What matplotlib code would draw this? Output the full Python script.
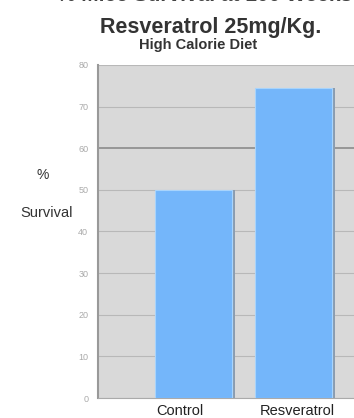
import numpy as np
import matplotlib.pyplot as plt

plt.rcParams['font.family'] = ['Liberation Sans', 'DejaVu Sans']

groups = ["Control", "Resveratrol"]
survival = [50, 74.5]
yticks = [0, 10, 20, 30, 40, 50, 60, 70, 80]

fig = plt.figure(figsize=(3.54, 4.18), dpi=100)
ax = fig.add_axes([98/354, 1 - 398/418, 1 - 98/354, (398 - 65)/418])
ax.set_facecolor("#d9d9d9")

x = np.arange(len(groups))
# drop shadow on the right side of each bar
ax.bar(x + 0.03, survival, width=0.77, color="#8a9cb0", zorder=2)
ax.bar(x, survival, width=0.77, color="#74b6fa", edgecolor="#a8d4fc", linewidth=0.8, zorder=3)

ax.set_xlim(-0.95, 1.61)
ax.set_ylim(0, 80)
ax.set_yticks(yticks)
ax.set_yticklabels([str(t) for t in yticks], fontsize=6.5, color="#aaaaaa")
ax.set_xticks([])
for t in yticks:
    ax.axhline(t, color="#8c8c8c" if t == 60 else "#b8b8b8", lw=1.2 if t == 60 else 0.8, zorder=1)
ax.tick_params(axis="y", length=0, pad=7)
for s in ["top", "right"]:
    ax.spines[s].set_visible(False)
ax.spines["left"].set_color("#999999")
ax.spines["left"].set_linewidth(1.5)
ax.spines["bottom"].set_color("#aaaaaa")

label_shift = [-0.13, 0.04]
for xi, dx, g in zip(x, label_shift, groups):
    ax.text(xi + dx, -3.2, g, ha="center", va="center", fontsize=10.5, color="#222222")

fig.text(43/354, 1 - 175/418, "%", ha="center", va="center", fontsize=10, color="#333333")
fig.text(47/354, 1 - 213/418, "Survival", ha="center", va="center", fontsize=10.5, color="#333333")

# heading line above the title, mostly above the top edge
fig.text(205/354, 1 - (-5)/418, "% Mice Survival at 100 Weeks", ha="center", va="center",
         fontsize=15, fontweight="bold", color="#444444")
fig.text(211/354, 1 - 27/418, "Resveratrol 25mg/Kg.", ha="center", va="center",
         fontsize=15.5, fontweight="bold", color="#333333")
fig.text(198/354, 1 - 45/418, "High Calorie Diet", ha="center", va="center",
         fontsize=10.5, fontweight="bold", color="#333333")

fig.savefig("out.png", dpi=100)
